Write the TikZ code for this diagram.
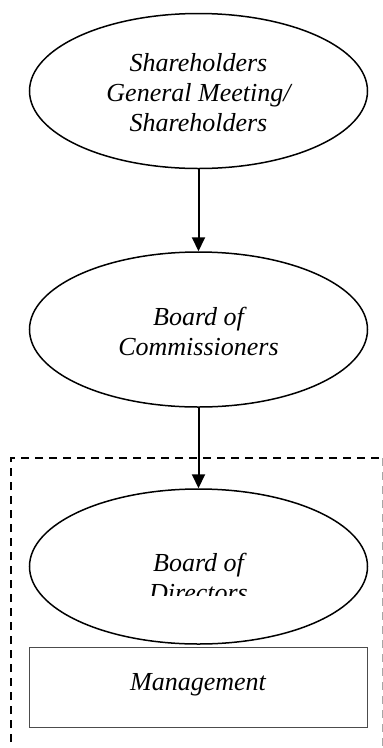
\documentclass[tikz,border=0pt]{standalone}
\usepackage{fontspec}
\setmainfont{Liberation Serif}
\usetikzlibrary{shapes.geometric,arrows.meta}
\begin{document}
\begin{tikzpicture}[x=1pt,y=-1pt,
  oval/.style={ellipse,draw=black,line width=1.5pt,inner sep=0pt,minimum width=338pt,minimum height=155pt},
  lbl/.style={align=center,inner sep=0pt,font=\fontsize{26}{30}\selectfont\itshape},
  mgmt/.style={rectangle,draw=black!70,line width=1pt,inner sep=0pt,minimum width=338pt,minimum height=80pt},
  flow/.style={line width=2pt,-{Triangle[width=13pt,length=14pt]}},
  frame/.style={line width=1.6pt,dash pattern=on 8pt off 6pt}]
\useasboundingbox (0,0) rectangle (383,748);
% dashed frame
\coordinate (fl) at (11,770);
\coordinate (ftl) at (11,458);
\coordinate (ftr) at (382,458);
\coordinate (fr) at (382,770);
\draw[frame] (fl) -- (ftl) -- (ftr);
\draw[frame,draw=black!35,line width=1pt] (ftr) -- (fr);
% nodes
\node[oval] (sh) at (198.5,91) {};
\node[lbl] (shl) at (198.5,93) {Shareholders\\General Meeting/\\Shareholders};
\node[oval] (bc) at (198.5,329.5) {};
\node[lbl] (bcl) at (198.5,331) {Board of\\Commissioners};
\node[oval] (bd) at (198.5,566.5) {};
\begin{scope}
\clip (0,0) rectangle (383,595);
\node[lbl] (bdl) at (198.5,577) {Board of\\Directors};
\end{scope}
\node[mgmt] (mg) at (198,687) {};
\node[lbl] (mgl) at (198,685) {Management};
% connectors
\draw[flow] (sh.south) -- (bc.north);
\draw[flow] (bc.south) -- (bd.north);
\end{tikzpicture}
\end{document}
